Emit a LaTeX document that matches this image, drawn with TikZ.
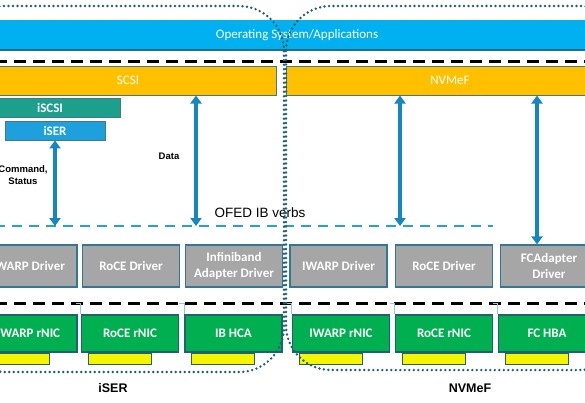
\documentclass[tikz,border=0pt]{standalone}
\usepackage{fontspec}
\setmainfont{Carlito}
\newfontfamily\arialfont{Liberation Sans}
\usetikzlibrary{arrows.meta}

\definecolor{osblue}{RGB}{0,176,240}
\definecolor{osedge}{RGB}{30,110,140}
\definecolor{scsiorange}{RGB}{255,192,0}
\definecolor{barline}{RGB}{70,120,130}
\definecolor{iscsigreen}{RGB}{28,160,140}
\definecolor{iserblue}{RGB}{30,160,220}
\definecolor{drvgrey}{RGB}{166,166,166}
\definecolor{drvline}{RGB}{50,120,150}
\definecolor{cardgreen}{RGB}{0,176,80}
\definecolor{cardline}{RGB}{30,100,110}
\definecolor{slotyellow}{RGB}{245,245,0}
\definecolor{flowblue}{RGB}{20,135,195}
\definecolor{ofedblue}{RGB}{40,160,210}
\definecolor{loopteal}{RGB}{30,95,115}
\definecolor{bracketblue}{RGB}{140,200,230}

\tikzset{
  bar/.style={draw=barline, line width=1pt, text=white, minimum height=29pt,
    inner sep=0pt, font=\fontsize{13}{15}\selectfont},
  tag/.style={draw=barline, line width=0.8pt, text=white, minimum height=19pt,
    inner sep=0pt, font=\bfseries\fontsize{13}{15}\selectfont},
  drvbox/.style={draw=drvline, line width=1.2pt, fill=drvgrey, text=white,
    minimum width=97pt, minimum height=42pt, inner sep=0pt, align=center,
    font=\bfseries\fontsize{13}{16}\selectfont},
  card/.style={draw=cardline, line width=1.2pt, fill=cardgreen, text=white,
    minimum width=97pt, minimum height=37pt, inner sep=0pt,
    font=\bfseries\fontsize{13}{15}\selectfont},
  slot/.style={draw=cardline, line width=0.8pt, fill=slotyellow,
    minimum width=63pt, minimum height=11pt, inner sep=0pt},
  bracket/.style={draw=bracketblue, line width=1pt},
  sepline/.style={draw=black, line width=3pt, dash pattern=on 12pt off 7pt},
  ofedline/.style={draw=ofedblue, line width=2.5pt, dash pattern=on 10pt off 7pt},
  flow/.style={draw=flowblue, line width=3.6pt,
    {Triangle[width=11pt,length=8pt]}-{Triangle[width=11pt,length=8pt]}},
  note/.style={font=\arialfont\bfseries\fontsize{9.5}{12.5}\selectfont, align=center},
  grouplbl/.style={font=\arialfont\bfseries\fontsize{12.5}{14}\selectfont},
  loopline/.style={draw=loopteal, line width=2.7pt, line cap=round,
    dash pattern=on 0pt off 4.5pt, rounded corners=45pt}
}

\begin{document}
\begin{tikzpicture}[x=1pt,y=-1pt]
    \useasboundingbox (0,0) rectangle (585,402);
    \clip (0,0) rectangle (585,402);

    % Top layer: applications
    \node[fill=osblue, text=white, minimum width=610pt, minimum height=30pt, inner sep=0pt,
      font=\fontsize{13}{15}\selectfont] (os) at (297,35) {Operating System/Applications};
    \draw[osedge, line width=1.5pt] (os.south west) -- (os.south east);

    \draw[sepline] (-5,61) -- (590,61);

    % Protocol bars
    \node[bar, fill=scsiorange, minimum width=296pt] (scsi) at (128,80.5) {SCSI};
    \node[bar, fill=scsiorange, minimum width=328pt] (nvmef) at (450,80.5) {NVMeF};
    \node[tag, fill=iscsigreen, minimum width=140pt] (iscsi) at (50,107.5) {iSCSI};
    \node[tag, fill=iserblue, minimum width=100pt] (iser) at (55,130.5) {iSER};

    % OFED verbs line
    \coordinate (ofedL) at (-5,226);
    \coordinate (ofedR) at (493,226);
    \draw[ofedline] (ofedL) -- (ofedR);
    \node[font=\arialfont\fontsize{13.5}{15}\selectfont] (ofedlbl) at (260,213) {OFED IB verbs};

    % Drivers
    \foreach \n/\x/\t in {1/28.5/IWARP Driver, 2/131/RoCE Driver,
        3/234/{Infiniband\\Adapter Driver}, 4/338.5/IWARP Driver,
        5/444/RoCE Driver, 6/549/{FCAdapter\\Driver}}
      \node[drvbox] (drv\n) at (\x,266) {\t};

    \draw[sepline] (-5,303) -- (590,303);

    % Adapter cards
    \foreach \n/\x/\t in {1/28.5/IWARP rNIC, 2/130/RoCE rNIC, 3/233.5/IB HCA,
        4/341/IWARP rNIC, 5/444/RoCE rNIC, 6/547/FC HBA}
      \node[card] (card\n) at (\x,333.5) {\t};
    \foreach \i in {1,...,6} {
      \node[slot, anchor=north west] (slot\i) at ([xshift=7pt]card\i.south west) {};
      \draw[bracket] (card\i.north west) -- ++(0,-11) -- ++(-5,0);
    }

    % Data paths
    \coordinate (dataX) at (196,0);
    \coordinate (nvX1) at (400,0);
    \coordinate (nvX2) at (537,0);
    \draw[flow] (iser.south) -- (iser.south |- ofedL);
    \draw[flow] (scsi.south -| dataX) -- (ofedL -| dataX);
    \draw[flow] (nvmef.south -| nvX1) -- (ofedL -| nvX1);
    \draw[flow] (nvmef.south -| nvX2) -- (drv6.north -| nvX2);

    \node[note] (cmdlbl) at (23,175) {Command,\\Status};
    \node[note] (datalbl) at (169,156) {Data};

    % Group outlines
    \draw[loopline] (-40,6) rectangle (284,372);
    \draw[loopline] (286,6) rectangle (625,370);
    \node[grouplbl] (iserlbl) at (113,388) {iSER};
    \node[grouplbl] (nvmelbl) at (470,388) {NVMeF};
\end{tikzpicture}
\end{document}
